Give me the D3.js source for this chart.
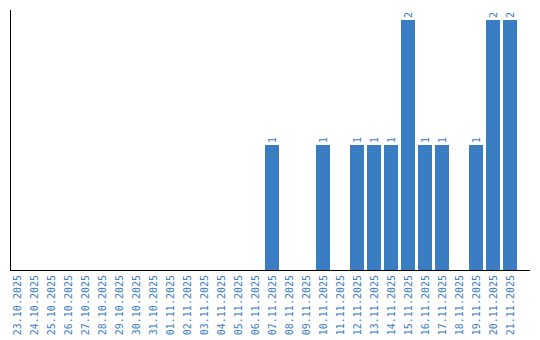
<!DOCTYPE html>
<html>
<head>
<meta charset="utf-8">
<script src="https://cdn.jsdelivr.net/npm/d3@7"></script>
<style>
  body { margin: 0; background: #fff; }
  text { font-family: "DejaVu Sans Mono", monospace; }
</style>
</head>
<body>
<div class="chart-container"></div>
<script>
var dates = ['23.10.2025', '24.10.2025', '25.10.2025', '26.10.2025', '27.10.2025',
  '28.10.2025', '29.10.2025', '30.10.2025', '31.10.2025', '01.11.2025',
  '02.11.2025', '03.11.2025', '04.11.2025', '05.11.2025', '06.11.2025',
  '07.11.2025', '08.11.2025', '09.11.2025', '10.11.2025', '11.11.2025',
  '12.11.2025', '13.11.2025', '14.11.2025', '15.11.2025', '16.11.2025',
  '17.11.2025', '18.11.2025', '19.11.2025', '20.11.2025', '21.11.2025'];
var counts = [0, 0, 0, 0, 0, 0, 0, 0, 0, 0,
  0, 0, 0, 0, 0, 1, 0, 0, 1, 0,
  1, 1, 1, 2, 1, 1, 0, 1, 2, 2];

var width = 540;
var height = 340;
var color = '#3b7dc2';

var data = dates.map((d, i) => ({date: d, count: counts[i]}));

var x = d3.scaleBand()
  .domain(dates)
  .range([10, 517])
  .paddingInner(3 / 17)
  .paddingOuter(0);

var y = d3.scaleLinear()
  .domain([0, 2])
  .range([270, 20]);

var svg = d3.select('.chart-container').append('svg')
  .attr('width', width)
  .attr('height', height);

svg.selectAll('.bar')
  .data(data.filter(d => d.count > 0))
  .enter().append('rect')
    .attr('class', 'bar')
    .attr('x', d => x(d.date))
    .attr('y', d => y(d.count))
    .attr('width', x.bandwidth())
    .attr('height', d => y(0) - y(d.count))
    .style('fill', color);

// value labels, rotated like the date labels
svg.selectAll('.value')
  .data(data.filter(d => d.count > 0))
  .enter().append('text')
    .attr('class', 'value')
    .attr('transform', d => `translate(${x(d.date) + x.bandwidth() / 2},${y(d.count) - 2}) rotate(-90)`)
    .attr('dy', '0.35em')
    .style('font-size', '10px')
    .style('fill', color)
    .text(d => d.count);

var xAxis = d3.axisBottom(x).tickSize(0).tickPadding(0);

var gX = svg.append('g')
  .attr('transform', 'translate(0,270)')
  .call(xAxis);

gX.select('.domain').remove();
gX.selectAll('text')
  .attr('transform', 'translate(0,5) rotate(-90)')
  .attr('x', 0)
  .attr('y', 0)
  .attr('dy', '0.35em')
  .style('text-anchor', 'end')
  .style('font-size', '10px')
  .style('font-family', '"DejaVu Sans Mono", monospace')
  .style('fill', color);

// axis frame lines
svg.append('line')
  .attr('x1', 10.5).attr('x2', 10.5)
  .attr('y1', 10).attr('y2', 270)
  .style('stroke', '#000');

svg.append('line')
  .attr('x1', 10).attr('x2', 530)
  .attr('y1', 270.5).attr('y2', 270.5)
  .style('stroke', '#000');
</script>
</body>
</html>
